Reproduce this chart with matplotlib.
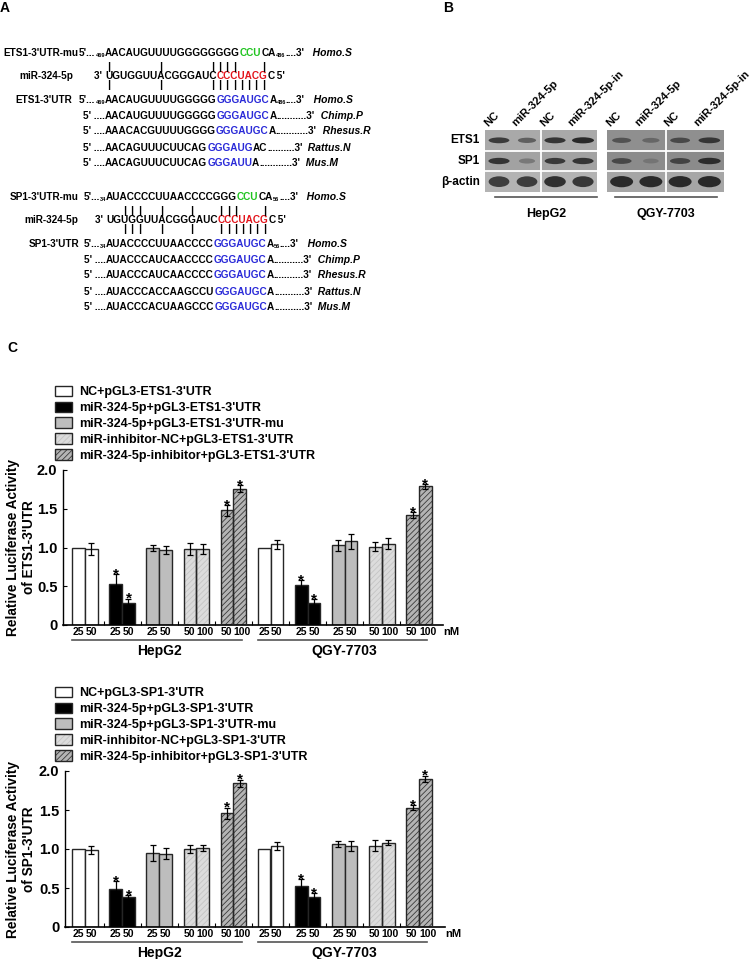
import numpy as np
import matplotlib
matplotlib.use('Agg')
import matplotlib.pyplot as plt
from matplotlib.patches import Ellipse, Patch, Rectangle
from matplotlib.transforms import blended_transform_factory

plt.rcParams['font.family'] = ['Liberation Sans', 'DejaVu Sans']
plt.rcParams['font.weight'] = 'bold'
plt.rcParams['axes.labelweight'] = 'bold'
plt.rcParams['hatch.linewidth'] = 0.6

W, H = 753, 959

# ---------------- panel A: sequences ----------------
GREEN, RED, BLUE = '#1fc41f', '#e3141b', '#2a2ad8'
mir_seq = [("UGUGGUUACGGGAUC", 'k'), ("CCCUACG", RED), ("C", 'k')]

ets1_mu = [("AACAUGUUUUGGGGGGGG", 'k'), ("CCU", GREEN), ("CA", 'k')]
ets1_wt = [("AACAUGUUUUGGGGG", 'k'), ("GGGAUGC", BLUE), ("A", 'k')]
ets1_sites = ("469", "486")
ets1_species = ["Chimp.P", "Rhesus.R", "Rattus.N", "Mus.M"]
ets1_orth = [
    [("AACAUGUUUUGGGGG", 'k'), ("GGGAUGC", BLUE), ("A", 'k')],
    [("AAACACGUUUUGGGG", 'k'), ("GGGAUGC", BLUE), ("A", 'k')],
    [("AACAGUUUCUUCAG", 'k'), ("GGGAUG", BLUE), ("AC", 'k')],
    [("AACAGUUUCUUCAG", 'k'), ("GGGAUU", BLUE), ("A", 'k')],
]
ets1_dots = [11, 12, 10, 12]
ets1_pair_mu = [0, 7, 14, 15, 16, 17, 21]
ets1_pair_wt = [0, 7, 14, 15, 16, 17, 18, 19, 20, 21]

sp1_mu = [("AUACCCCUUAACCCCGGG", 'k'), ("CCU", GREEN), ("CA", 'k')]
sp1_wt = [("AUACCCCUUAACCCC", 'k'), ("GGGAUGC", BLUE), ("A", 'k')]
sp1_sites = ("34", "56")
sp1_species = ["Chimp.P", "Rhesus.R", "Rattus.N", "Mus.M"]
sp1_orth = [
    [("AUACCCAUCAACCCC", 'k'), ("GGGAUGC", BLUE), ("A", 'k')],
    [("AUACCCAUCAACCCC", 'k'), ("GGGAUGC", BLUE), ("A", 'k')],
    [("AUACCCACCAAGCCU", 'k'), ("GGGAUGC", BLUE), ("A", 'k')],
    [("AUACCCACUAAGCCC", 'k'), ("GGGAUGC", BLUE), ("A", 'k')],
]
sp1_dots = [11, 11, 11, 11]
sp1_pair_mu = [2, 3, 4, 7, 11, 15, 16, 17, 21]
sp1_pair_wt = [2, 3, 4, 7, 11, 15, 16, 17, 18, 19, 20, 21]

# ---------------- panel B: western blot ----------------
blot_rows = ['ETS1', 'SP1', 'β-actin']
lane_labels = ['NC', 'miR-324-5p', 'NC', 'miR-324-5p-in']
cells = ['HepG2', 'QGY-7703']
# band darkness 0..1, rows x lanes
hepg2_bands = [[0.80, 0.50, 0.85, 0.95],
               [0.85, 0.25, 0.80, 0.85],
               [0.80, 0.80, 0.90, 0.85]]
qgy_bands = [[0.50, 0.30, 0.60, 0.80],
             [0.60, 0.12, 0.65, 0.90],
             [0.95, 0.95, 0.95, 0.95]]
hepg2_bg = ['#a9a9a9', '#a2a2a2', '#b3b3b3']
qgy_bg = ['#8f8f8f', '#8b8b8b', '#a6a6a6']

# ---------------- panel C: luciferase ----------------
doses = [['25', '50'], ['25', '50'], ['25', '50'], ['50', '100'], ['50', '100']]
signif = [False, True, False, False, True]
ets1_labels = ["NC+pGL3-ETS1-3'UTR", "miR-324-5p+pGL3-ETS1-3'UTR",
               "miR-324-5p+pGL3-ETS1-3'UTR-mu", "miR-inhibitor-NC+pGL3-ETS1-3'UTR",
               "miR-324-5p-inhibitor+pGL3-ETS1-3'UTR"]
sp1_labels = ["NC+pGL3-SP1-3'UTR", "miR-324-5p+pGL3-SP1-3'UTR",
              "miR-324-5p+pGL3-SP1-3'UTR-mu", "miR-inhibitor-NC+pGL3-SP1-3'UTR",
              "miR-324-5p-inhibitor+pGL3-SP1-3'UTR"]

ets1_hepg2 = [[1.00, 0.98], [0.53, 0.28], [0.99, 0.97], [0.98, 0.98], [1.48, 1.76]]
ets1_hepg2_err = [[0.00, 0.08], [0.13, 0.06], [0.04, 0.05], [0.08, 0.06], [0.07, 0.04]]
ets1_qgy = [[1.00, 1.04], [0.51, 0.28], [1.03, 1.08], [1.01, 1.05], [1.42, 1.79]]
ets1_qgy_err = [[0.00, 0.06], [0.07, 0.05], [0.07, 0.10], [0.06, 0.07], [0.04, 0.03]]

sp1_hepg2 = [[1.00, 0.99], [0.49, 0.38], [0.95, 0.94], [1.00, 1.01], [1.46, 1.84]]
sp1_hepg2_err = [[0.00, 0.05], [0.10, 0.03], [0.10, 0.07], [0.05, 0.04], [0.07, 0.05]]
sp1_qgy = [[1.00, 1.04], [0.53, 0.39], [1.06, 1.04], [1.04, 1.08], [1.53, 1.90]]
sp1_qgy_err = [[0.00, 0.05], [0.08, 0.04], [0.04, 0.06], [0.07, 0.03], [0.03, 0.04]]

fig = plt.figure(figsize=(W / 100, H / 100), dpi=100)
ov = fig.add_axes([0, 0, 1, 1])
ov.set_xlim(0, W)
ov.set_ylim(H, 0)
ov.axis('off')

FS = 7.2


def chain_right(prev, s, color='k', size=FS, style='normal', alpha=1):
    return ov.annotate(s, xy=(1, 0), xycoords=prev, ha='left', va='bottom',
                       color=color, fontsize=size, style=style, alpha=alpha)


def chain_left(prev, s, size=FS):
    return ov.annotate(s, xy=(0, 0), xycoords=prev, ha='right', va='bottom',
                       fontsize=size)


def seq_row(x, y, parts):
    first = ov.text(x, y, parts[0][0], color=parts[0][1], fontsize=FS,
                    ha='left', va='baseline')
    last = first
    for s, c in parts[1:]:
        last = chain_right(last, s, c)
    return first, last


def utr_row(x, y, label, lab_x, parts, sites):
    ov.text(lab_x, y, label, ha='right', va='baseline', fontsize=FS)
    first, last = seq_row(x, y, parts)
    t = chain_left(first, sites[0], 4)
    chain_left(t, "5'...")
    t = chain_right(last, sites[1], size=4)
    t = chain_right(t, "....3'")
    chain_right(t, "   Homo.S", size=7.5, style='italic')


def char_anchor(x, y, i):
    # invisible copy of the miR prefix, used only to find where base i sits
    full = ''.join(s for s, c in mir_seq)
    if i == 0:
        return ov.text(x, y, full[0], alpha=0, fontsize=FS, ha='left', va='baseline')
    pre = ov.text(x, y, full[:i], alpha=0, fontsize=FS, ha='left', va='baseline')
    return chain_right(pre, full[i], alpha=0)


def mir_row(x, y, lab_x):
    ov.text(lab_x, y, "miR-324-5p", ha='right', va='baseline', fontsize=FS)
    first, last = seq_row(x, y, mir_seq)
    chain_left(first, "3' ")
    chain_right(last, " 5'")


def pair_bars(x, y, idx, above):
    for i in idx:
        ch = char_anchor(x, y, i)
        if above:
            ov.annotate('|', xy=(0.5, 1), xycoords=ch, xytext=(0, -0.5),
                        textcoords='offset points', ha='center', va='bottom', fontsize=8)
        else:
            ov.annotate('|', xy=(0.5, 0), xycoords=ch, xytext=(0, 0.5),
                        textcoords='offset points', ha='center', va='top', fontsize=8)


def block(y0, x, gene, mu, wt, sites, species, orth, dots, pmu, pwt, labx):
    base = [0, 23, 47, 63, 78, 95, 110]
    ys = [y0 + b + 4 for b in base]
    utr_row(x, ys[0], gene + "-3'UTR-mu", labx[0], mu, sites)
    mir_row(x, ys[1], labx[1])
    utr_row(x, ys[2], gene + "-3'UTR", labx[2], wt, sites)
    pair_bars(x, ys[1], pmu, True)
    pair_bars(x, ys[1], pwt, False)
    for k, (sp, parts) in enumerate(zip(species, orth)):
        first, last = seq_row(x, ys[3 + k], parts)
        chain_left(first, "5' ....")
        t = chain_right(last, '.' * dots[k] + "3'")
        chain_right(t, "  " + sp, size=7.5, style='italic')


block(52, 105, 'ETS1', ets1_mu, ets1_wt, ets1_sites, ets1_species, ets1_orth,
      ets1_dots, ets1_pair_mu, ets1_pair_wt, [78, 73, 72])
block(196, 106, 'SP1', sp1_mu, sp1_wt, sp1_sites, sp1_species, sp1_orth,
      sp1_dots, sp1_pair_mu, sp1_pair_wt, [79, 78, 79])

# panel letters
for letter, (lx, ly) in zip('ABC', [(0, 8), (443, 8), (7, 348)]):
    ov.text(lx, ly, letter, fontsize=10, ha='left', va='center')

# ---------------- panel B ----------------
BAND_H = [0.30, 0.32, 0.55]


def draw_gel(px_left, px_right, bands, bg, cell, line, show_rows):
    ax = fig.add_axes([px_left / W, 1 - 192 / H, (px_right - px_left) / W, 62 / H])
    ax.set_xlim(0, 4)
    ax.set_ylim(3, 0)
    ax.axis('off')
    for r in range(3):
        ax.add_patch(Rectangle((0, r), 4, 1, facecolor=bg[r], linewidth=0))
        for j in range(4):
            v = bands[r][j]
            ax.add_patch(Ellipse((j + 0.5, r + 0.5), 0.5 + 0.3 * v,
                                 BAND_H[r] * (0.7 + 0.3 * v),
                                 facecolor='#1c1c1c', alpha=0.1 + 0.85 * v, linewidth=0))
    for r in (1, 2):
        ax.axhline(r, color='white', lw=1.3)
    ax.axvline(2, color='white', lw=1.3)
    for j, lab in enumerate(lane_labels):
        ax.text(j + 0.15, -0.1, lab, rotation=45, rotation_mode='anchor',
                ha='left', va='bottom', fontsize=8, clip_on=False)
    if show_rows:
        for r, name in enumerate(blot_rows):
            ax.text(-0.18, r + 0.5, name, ha='right', va='center', fontsize=8.5, clip_on=False)
    ax.plot(line, [3.25, 3.25], color='#555555', lw=1.2, clip_on=False)
    ax.text(np.mean(line), 4.05, cell, ha='center', va='center', fontsize=9, clip_on=False)


draw_gel(485, 597, hepg2_bands, hepg2_bg, cells[0], [0.35, 4.0], True)
draw_gel(607, 724, qgy_bands, qgy_bg, cells[1], [0.27, 3.76], False)

# ---------------- panel C ----------------
BW = 0.345
EDGE = '#262626'
bar_fc = ['white', 'black', '#bdbdbd', '#dcdcdc', '#b4b4b4']
bar_hatch = [None, None, None, '//////', '//////']
hatch_col = [None, None, None, '#c4c4c4', '#3a3a3a']
PITCH, G0 = 37.1, 85.0


def handle(k):
    if bar_hatch[k]:
        return (Patch(facecolor=bar_fc[k], hatch=bar_hatch[k], edgecolor=hatch_col[k], linewidth=0),
                Patch(fill=False, edgecolor=EDGE, linewidth=1.0))
    return Patch(facecolor=bar_fc[k], edgecolor=EDGE, linewidth=1.0)


def luc_chart(px, means, errs, labels, ylabel):
    left, right, top, bottom = px
    ax = fig.add_axes([left / W, 1 - bottom / H, (right - left) / W, (bottom - top) / H])
    ax.set_xlim((left - G0) / PITCH, (right - G0) / PITCH)
    ax.set_ylim(0, 2.0)
    for g in range(10):
        k = g % 5
        for b in range(2):
            x = g + (b - 0.5) * BW
            m, e = means[g][b], errs[g][b]
            if bar_hatch[k]:
                ax.bar(x, m, BW, color=bar_fc[k], hatch=bar_hatch[k],
                       edgecolor=hatch_col[k], linewidth=0, zorder=2)
                ax.bar(x, m, BW, fill=False, edgecolor=EDGE, linewidth=1.0, zorder=3)
            else:
                ax.bar(x, m, BW, color=bar_fc[k], edgecolor=EDGE, linewidth=1.0, zorder=2)
            if e > 0:
                ax.errorbar(x, m, yerr=e, fmt='none', ecolor='k', elinewidth=0.9,
                            capsize=2.3, capthick=0.9, zorder=4)
            if signif[k]:
                ax.annotate('*', xy=(x, m + e), xytext=(0, -3), textcoords='offset points',
                            ha='center', va='baseline', fontsize=11)
    trans = blended_transform_factory(ax.transData, ax.transAxes)
    for g in range(10):
        for b in range(2):
            lab = doses[g % 5][b]
            shift = (1.6 if len(lab) == 3 else 0) - (0.6 if len(doses[g % 5][1]) == 3 and b == 0 else 0)
            ax.annotate(lab, xy=(g + (b - 0.5) * BW, -0.012), xycoords=trans,
                        xytext=(shift, 0), textcoords='offset points',
                        ha='center', va='top', fontsize=7.5)
    for c in range(2):
        g1, g2 = 5 * c, 5 * c + 4
        ax.plot([g1 - 0.35, g2 + 0.22], [-0.098, -0.098], transform=trans,
                color='#555555', lw=1.2, clip_on=False)
        ax.text((g1 + g2) / 2, -0.165, cells[c], transform=trans, ha='center',
                va='center', fontsize=10)
    ax.text(1.0, -0.012, 'nM', transform=ax.transAxes, ha='left', va='top', fontsize=8)

    ax.spines[['top', 'right']].set_visible(False)
    ax.spines['left'].set_linewidth(1.0)
    ax.spines['bottom'].set_linewidth(1.2)
    ax.set_xticks(np.arange(9) + 0.5)
    ax.set_xticklabels([])
    ax.tick_params(axis='x', direction='in', length=3)
    ax.set_yticks([0, 0.5, 1.0, 1.5, 2.0])
    ax.set_yticklabels(['0', '0.5', '1.0', '1.5', '2.0'], fontsize=10.5)
    ax.tick_params(axis='y', direction='in', length=3, pad=4)
    ax.set_ylabel(ylabel, fontsize=9.8, va='center', ha='center', linespacing=1.1)
    ax.yaxis.set_label_coords((21 - left) / (right - left), 0.5)

    ax.legend([handle(k) for k in range(5)], labels, loc='lower left',
              bbox_to_anchor=((55 - left) / (right - left), 1 + 8 / (bottom - top)),
              frameon=False, fontsize=9, handlelength=1.35, handleheight=0.95,
              handletextpad=0.55, labelspacing=0.26, borderpad=0, borderaxespad=0)
    return ax


luc_chart((63, 443, 470, 625), ets1_hepg2 + ets1_qgy, ets1_hepg2_err + ets1_qgy_err,
          ets1_labels, "Relative Luciferase Activity\nof ETS1-3'UTR")
luc_chart((65, 445, 771, 927), sp1_hepg2 + sp1_qgy, sp1_hepg2_err + sp1_qgy_err,
          sp1_labels, "Relative Luciferase Activity\nof SP1-3'UTR")

fig.savefig('out.png', dpi=100)
